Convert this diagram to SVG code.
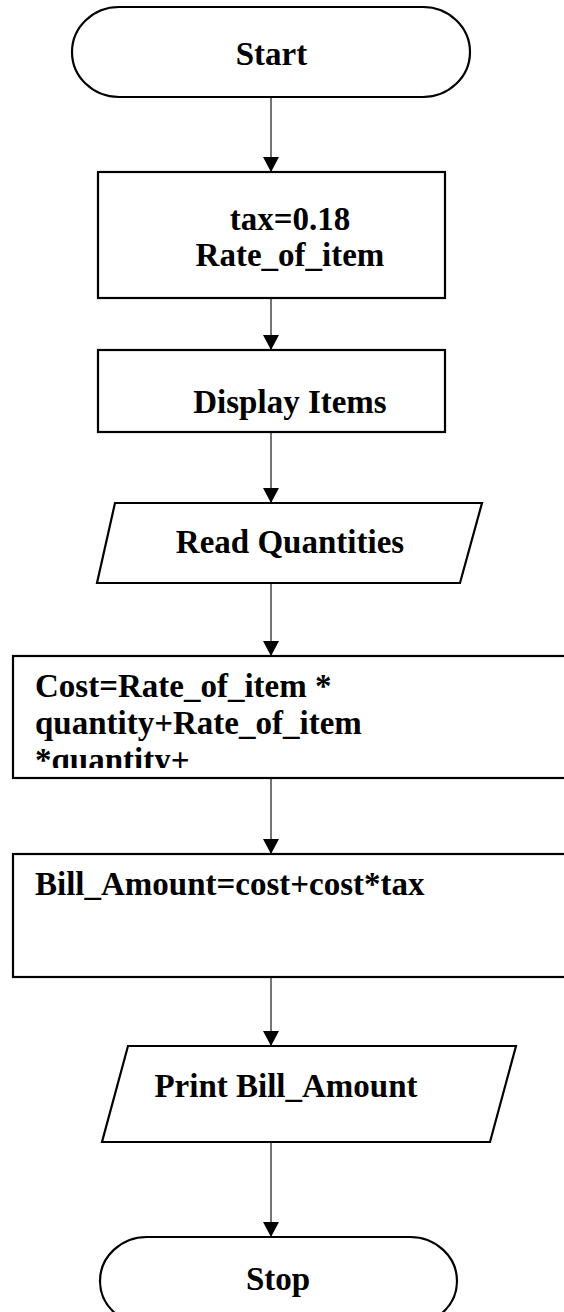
<svg xmlns="http://www.w3.org/2000/svg" width="564" height="1312" viewBox="0 0 564 1312">
  <style>
    .shape { fill: #ffffff; stroke: #000000; stroke-width: 2.2; }
    .conn { stroke: #3a3a3a; stroke-width: 1.4; fill: none; }
    .t { font-family: "Liberation Serif", "DejaVu Serif", serif; font-weight: bold; font-size: 33px; fill: #000000; }
    .c { text-anchor: middle; }
  </style>
  <defs>
    <marker id="arrow" markerUnits="userSpaceOnUse" markerWidth="15" markerHeight="16" refX="15" refY="8" orient="auto">
      <path d="M0,0 L15,8 L0,16 z" fill="#000000"/>
    </marker>
    <clipPath id="costClip">
      <rect x="12" y="656" width="552" height="112"/>
    </clipPath>
  </defs>
  <rect width="564" height="1312" fill="#ffffff"/>

  <g id="connectors">
    <line class="conn" x1="271" y1="97" x2="271" y2="172" marker-end="url(#arrow)"/>
    <line class="conn" x1="271" y1="298" x2="271" y2="350" marker-end="url(#arrow)"/>
    <line class="conn" x1="271" y1="432" x2="271" y2="503" marker-end="url(#arrow)"/>
    <line class="conn" x1="271" y1="583" x2="271" y2="656" marker-end="url(#arrow)"/>
    <line class="conn" x1="271" y1="778" x2="271" y2="854" marker-end="url(#arrow)"/>
    <line class="conn" x1="271" y1="977" x2="271" y2="1046" marker-end="url(#arrow)"/>
    <line class="conn" x1="271" y1="1142" x2="271" y2="1237" marker-end="url(#arrow)"/>
  </g>

  <g id="start">
    <rect class="shape" x="72" y="7" width="398" height="90" rx="47" ry="45"/>
    <text class="t c" x="271.5" y="65">Start</text>
  </g>

  <g id="init">
    <rect class="shape" x="98" y="172" width="347" height="126"/>
    <text class="t c" x="290" y="230">tax=0.18</text>
    <text class="t c" x="290" y="266">Rate_of_item</text>
  </g>

  <g id="display">
    <rect class="shape" x="98" y="350" width="347" height="82"/>
    <text class="t c" x="290" y="413">Display Items</text>
  </g>

  <g id="read">
    <polygon class="shape" points="115,503 482,503 460,583 97,583"/>
    <text class="t c" x="290" y="553">Read Quantities</text>
  </g>

  <g id="cost">
    <rect class="shape" x="13" y="656" width="570" height="122"/>
    <g clip-path="url(#costClip)">
      <text class="t" x="35" y="697">Cost=Rate_of_item *</text>
      <text class="t" x="35" y="734">quantity+Rate_of_item</text>
      <text class="t" x="35" y="771">*quantity+</text>
    </g>
  </g>

  <g id="bill">
    <rect class="shape" x="13" y="854" width="570" height="123"/>
    <text class="t" x="35" y="895">Bill_Amount=cost+cost*tax</text>
  </g>

  <g id="print">
    <polygon class="shape" points="128,1046 516,1046 490,1142 102,1142"/>
    <text class="t c" x="286" y="1097">Print Bill_Amount</text>
  </g>

  <g id="stop">
    <rect class="shape" x="100" y="1237" width="357" height="88" rx="47" ry="44"/>
    <text class="t c" x="278" y="1290">Stop</text>
  </g>
</svg>
